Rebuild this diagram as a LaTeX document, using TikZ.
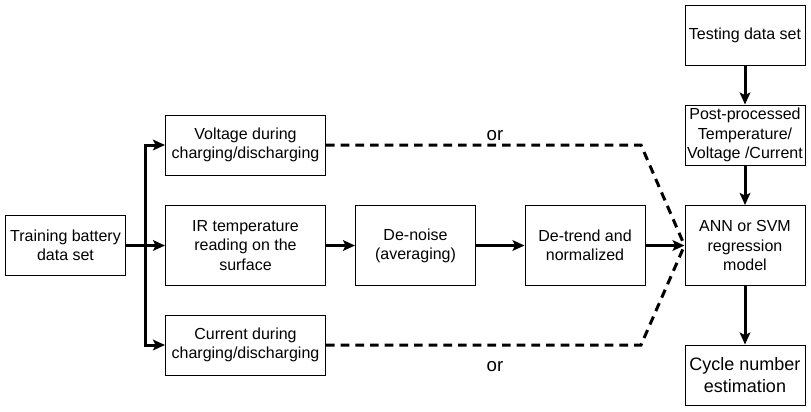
\documentclass[tikz,border=0pt]{standalone}
\usepackage{fontspec}
\setmainfont{Liberation Sans}
\usetikzlibrary{arrows.meta}

\begin{document}
\begin{tikzpicture}[
    x=0.75pt, y=-0.75pt,
    box/.style={draw, line width=0.75pt, align=center, inner sep=0pt,
      font=\fontsize{12}{14.4}\selectfont},
    flow/.style={line width=2.25pt, -{Stealth[length=9pt,width=8pt,inset=2pt]}},
    alt/.style={line width=2.25pt, dash pattern=on 6.5pt off 4.5pt},
  ]
\useasboundingbox (0,0) rectangle (811,411);
\node[box, minimum width=90pt, minimum height=45pt] (train) at (65.5,245.5) {Training battery\\data set};
\node[box, minimum width=120pt, minimum height=45pt] (volt) at (245.5,145) {Voltage during\\charging/discharging};
\node[box, minimum width=120pt, minimum height=60pt] (ir) at (245.5,245.5) {IR temperature\\reading on the\\surface};
\node[box, minimum width=120pt, minimum height=45pt] (curr) at (245.5,345) {Current during\\charging/discharging};
\node[box, minimum width=90pt, minimum height=60pt] (denoise) at (415.5,245.5) {De-noise\\(averaging)};
\node[box, minimum width=90pt, minimum height=60pt] (detrend) at (585,245.5) {De-trend and\\normalized};
\node[box, minimum width=90pt, minimum height=45pt] (test) at (745,35) {Testing data set};
\node[box, minimum width=90pt, minimum height=45pt] (post) at (745,135) {Post-processed\\Temperature/\\Voltage /Current};
\node[box, minimum width=90pt, minimum height=60pt] (model) at (745,245.5) {ANN or SVM\\regression\\model};
\node[box, minimum width=90pt, minimum height=45pt, font=\fontsize{13.5}{16}\selectfont] (cycle) at (745,375) {Cycle number\\estimation};
\node[font=\fontsize{14}{16}\selectfont] (ortop) at (495,136) {or};
\node[font=\fontsize{14}{16}\selectfont] (orbot) at (495,367) {or};
\coordinate (split) at (145.7,245.5);
\coordinate (vbend) at (641,145);
\coordinate (cbend) at (641,345);
\draw[line width=2.25pt] (train) -- (split);
\draw[flow] (split) |- (volt);
\draw[flow] (split) -- (ir);
\draw[flow] (split) |- (curr);
\draw[flow] (ir) -- (denoise);
\draw[flow] (denoise) -- (detrend);
\draw[flow] (detrend) -- (model);
\draw[alt] (volt) -- (vbend) -- (model.west);
\draw[alt] (curr) -- (cbend) -- (model.west);
\draw[flow] (test) -- (post);
\draw[flow] (post) -- (model);
\draw[flow] (model) -- (cycle);
\end{tikzpicture}
\end{document}
